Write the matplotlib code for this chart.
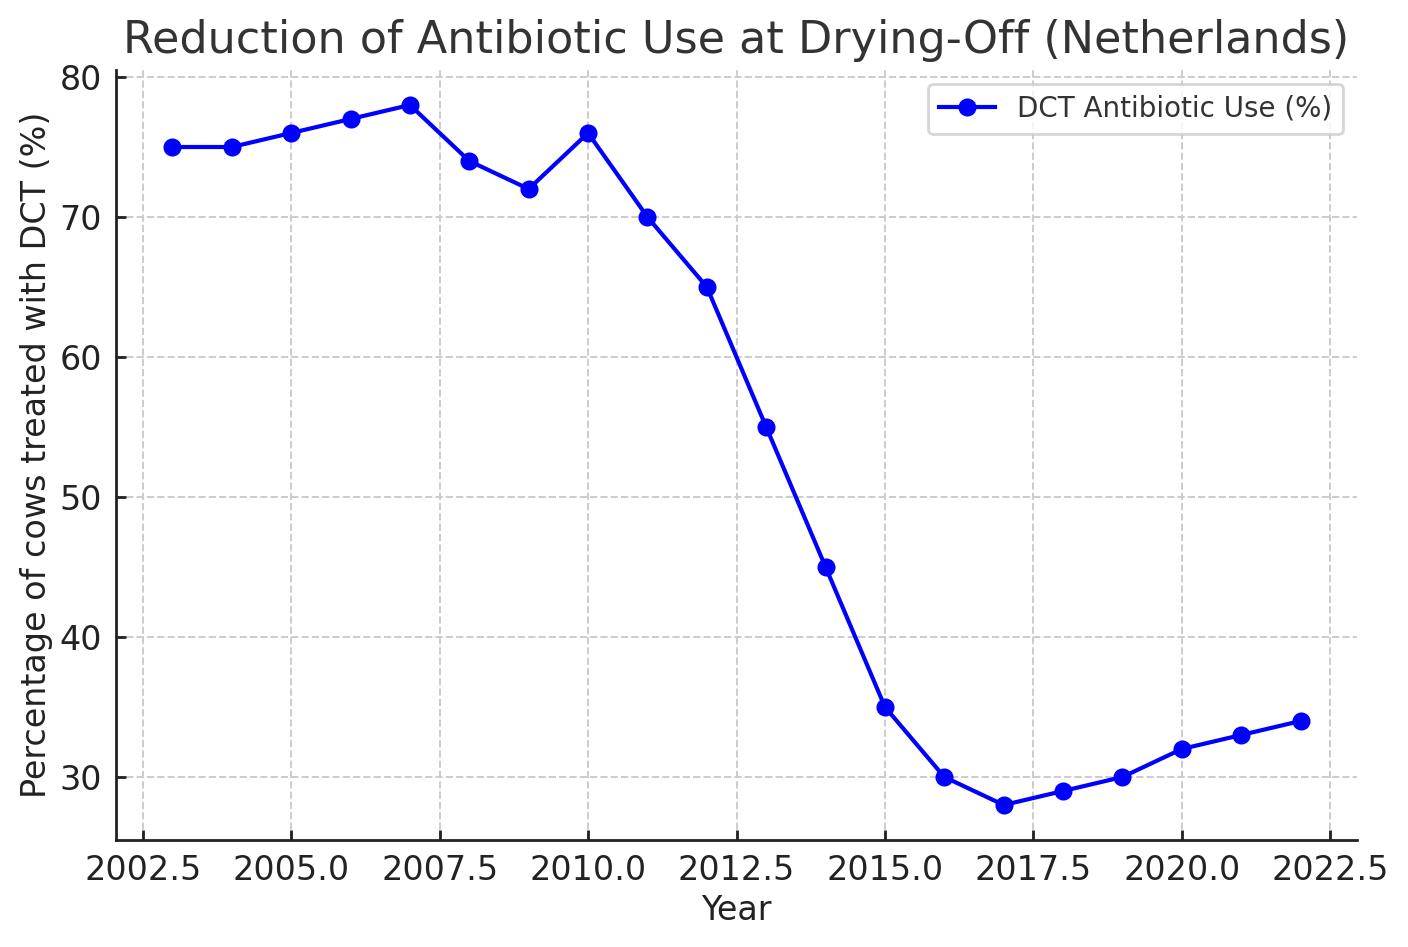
import matplotlib
matplotlib.use("Agg")
import matplotlib.pyplot as plt

years = [2003, 2004, 2005, 2006, 2007, 2008, 2009, 2010, 2011, 2012,
         2013, 2014, 2015, 2016, 2017, 2018, 2019, 2020, 2021, 2022]
dct_use = [75, 75, 76, 77, 78, 74, 72, 76, 70, 65,
           55, 45, 35, 30, 28, 29, 30, 32, 33, 34]

fig = plt.figure(figsize=(7.04, 4.735), dpi=200)
ax = fig.add_axes([116/1408, 1-840/947, (1357-116)/1408, (840-70)/947])
ax.plot(years, dct_use, color="blue", marker="o", linewidth=1.5, markersize=5.5,
        label="DCT Antibiotic Use (%)")
ax.set_title("Reduction of Antibiotic Use at Drying-Off (Netherlands)", fontsize=16,
             color="#333333", pad=6)
ax.set_xlabel("Year", fontsize=12, color="#222222", labelpad=2.5)
ax.set_ylabel("Percentage of cows treated with DCT (%)", fontsize=12, color="#222222", labelpad=2.5)
ax.grid(True, linestyle="--", color="#cccccc", linewidth=0.7)
ax.spines["top"].set_visible(False)
ax.spines["right"].set_visible(False)
for s in ("left", "bottom"):
    ax.spines[s].set_color("#222222")
    ax.spines[s].set_linewidth(1.0)
ax.tick_params(labelsize=12, colors="#222222", direction="in", length=3.5, width=1.0, pad=5)
leg = ax.legend(loc="upper right", fontsize=10, labelcolor="#333333")
leg.get_frame().set_edgecolor("#cccccc")
fig.savefig("out.png", dpi=200)
